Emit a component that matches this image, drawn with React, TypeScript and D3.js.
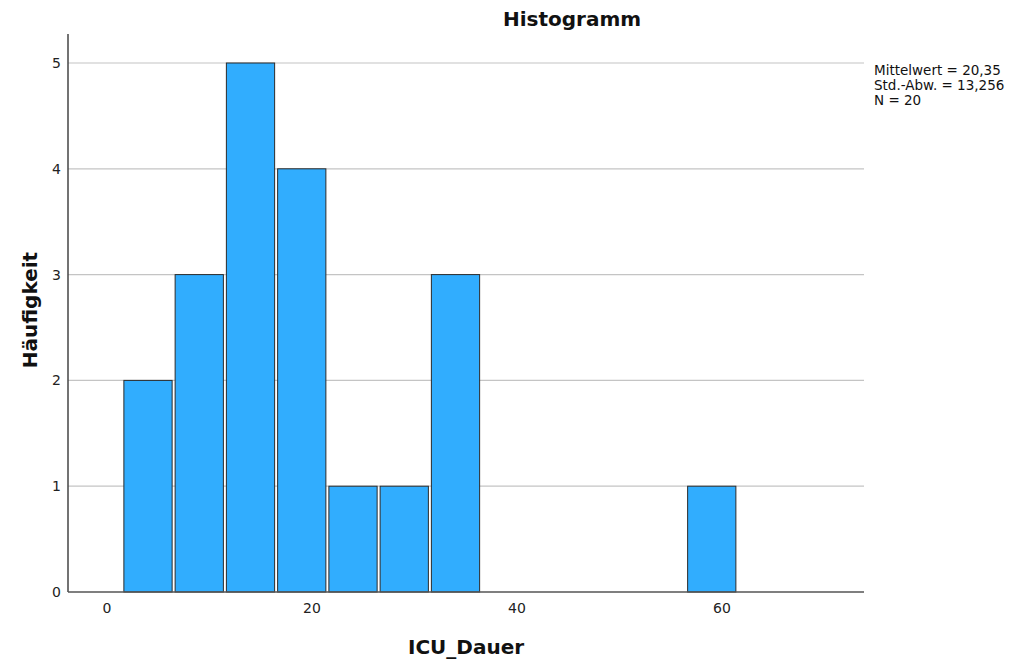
import React from "react";
import * as d3 from "d3";

// histogram bins (ICU_Dauer), width 5
const binStarts = [1.5, 6.5, 11.5, 16.5, 21.5, 26.5, 31.5, 36.5, 41.5, 46.5, 51.5, 56.5];
const binWidth = 5;
const counts = [2, 3, 5, 4, 1, 1, 3, 0, 0, 0, 0, 1];
const xTicks = [0, 20, 40, 60];
const yTicks = [0, 1, 2, 3, 4, 5];
const statLines = ["Mittelwert = 20,35", "Std.-Abw. = 13,256", "N = 20"];

const W = 1021;
const H = 661;
const left = 68;
const right = 864;
const top = 34;
const bottom = 592;

const App = () => {
  const x = d3.scaleLinear().domain([0, 60]).range([107, 722]);
  const y = d3.scaleLinear().domain([0, 5]).range([bottom, 63]);
  const font = "'DejaVu Sans', sans-serif";

  return (
    <svg
      width={W}
      height={H}
      style={{ position: "absolute", left: 0, top: 0, background: "#fff" }}
    >
      {/* gridlines */}
      {yTicks.filter((t) => t > 0).map((t) => (
        <line key={t} x1={left} x2={right} y1={y(t)} y2={y(t)} stroke="#c4c4c4" strokeWidth={1.2} />
      ))}

      {/* bars */}
      {binStarts.map((b, i) =>
        counts[i] > 0 ? (
          <rect
            key={i}
            x={x(b) + 1.5}
            y={y(counts[i])}
            width={x(b + binWidth) - x(b) - 3}
            height={y(0) - y(counts[i])}
            fill="#31adfe"
            stroke="#2b2b2b"
            strokeWidth={1}
          />
        ) : null
      )}

      {/* axes */}
      <line x1={left} x2={left} y1={top} y2={bottom} stroke="#444" strokeWidth={1.5} />
      <line x1={left} x2={right} y1={bottom} y2={bottom} stroke="#555" strokeWidth={1.5} />

      {yTicks.map((t) => (
        <text key={t} x={61} y={y(t)} dy="0.35em" textAnchor="end" fontFamily={font} fontSize={14} fill="#222">
          {t}
        </text>
      ))}
      {xTicks.map((t) => (
        <text key={t} x={x(t)} y={613} textAnchor="middle" fontFamily={font} fontSize={14} fill="#222">
          {t}
        </text>
      ))}

      {/* titles */}
      <text x={572} y={26} textAnchor="middle" fontFamily={font} fontWeight="bold" fontSize={20} fill="#111">
        Histogramm
      </text>
      <text x={466} y={654} textAnchor="middle" fontFamily={font} fontWeight="bold" fontSize={20} fill="#111">
        ICU_Dauer
      </text>
      <text
        transform="translate(37,310) rotate(-90)"
        textAnchor="middle"
        fontFamily={font}
        fontWeight="bold"
        fontSize={20}
        fill="#111"
      >
        Häufigkeit
      </text>

      {/* stats */}
      {statLines.map((s, i) => (
        <text key={s} x={874} y={75 + i * 15} fontFamily={font} fontSize={13.5} fill="#111">
          {s}
        </text>
      ))}
    </svg>
  );
};

export default App;
